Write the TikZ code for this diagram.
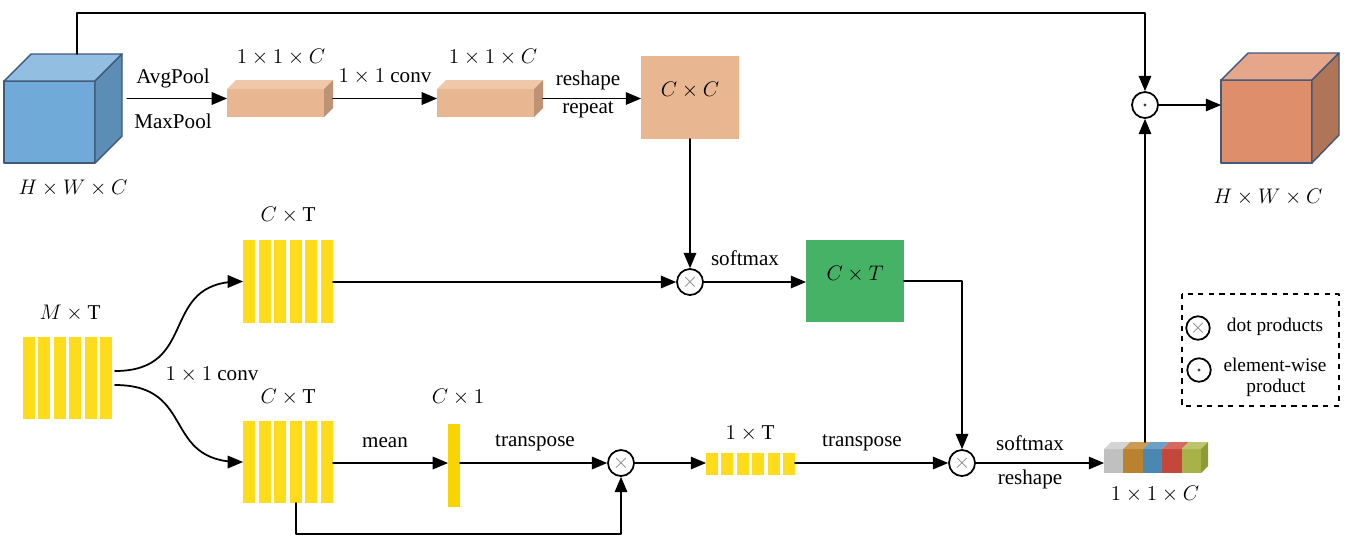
\documentclass[tikz,border=0pt]{standalone}
\usepackage{fontspec}
\setmainfont{Liberation Serif}
\usetikzlibrary{arrows}
\usetikzlibrary{fit}
\usetikzlibrary{calc}
\definecolor{cubeblue}{HTML}{6FAAD8}
\definecolor{cubebluetop}{HTML}{92BEE2}
\definecolor{cubeblueside}{HTML}{5B8DB5}
\definecolor{cubeedge}{HTML}{41597A}
\definecolor{peach}{HTML}{E8B690}
\definecolor{peachtop}{HTML}{EEC8A8}
\definecolor{peachside}{HTML}{BE9274}
\definecolor{cubered}{HTML}{DE8E6A}
\definecolor{cuberedtop}{HTML}{E5A689}
\definecolor{cuberedside}{HTML}{B07456}
\definecolor{baryellow}{HTML}{FFDC1A}
\definecolor{meanyellow}{HTML}{F8D500}
\definecolor{boxgreen}{HTML}{46B266}
\definecolor{segA}{HTML}{C0C0C0}
\definecolor{segAtop}{HTML}{D4D4D4}
\definecolor{segB}{HTML}{B8822F}
\definecolor{segBtop}{HTML}{CC9A52}
\definecolor{segC}{HTML}{4A88B2}
\definecolor{segCtop}{HTML}{6CA0C6}
\definecolor{segD}{HTML}{C4473B}
\definecolor{segDtop}{HTML}{D46A60}
\definecolor{segE}{HTML}{A9B149}
\definecolor{segEtop}{HTML}{BEC46C}
\definecolor{segEside}{HTML}{8C9A38}
\begin{document}
\begin{tikzpicture}[line cap=round,line join=round,>=triangle 45,x=0.02cm,y=-0.02cm,
  every node/.style={font=\fontsize{12}{14.4}\selectfont},
  conn/.style={line width=1.pt},
  op/.style={circle,draw,line width=1.pt,fill=white,minimum size=0.52cm,inner sep=0pt},
  area/.style={inner sep=0pt,outer sep=0pt},
  face/.style={draw=cubeedge,line width=.8pt},
  legtext/.style={font=\fontsize{11}{13}\selectfont}]
\useasboundingbox (0,0) rectangle (1355,539);
% input cube
\node[area,fit={(4,54)(122,163)}] (xin) {};
\filldraw[face,fill=cubeblue] (4,81) rectangle (95,163);
\filldraw[face,fill=cubebluetop] (4,81) -- (31,54) -- (122,54) -- (95,81) -- cycle;
\filldraw[face,fill=cubeblueside] (95,81) -- (122,54) -- (122,136) -- (95,163) -- cycle;
\coordinate (skip) at (77,54);
% pooled bars
\node[area,fit={(227,80)(333,117)}] (pool) {};
\fill[peach] (227,89) rectangle (324,117);
\fill[peachtop] (227,89) -- (236,80) -- (333,80) -- (324,89) -- cycle;
\fill[peachside] (324,89) -- (333,80) -- (333,108) -- (324,117) -- cycle;
\node[area,fit={(437,80)(543,117)}] (conv) {};
\fill[peach] (437,89) rectangle (534,117);
\fill[peachtop] (437,89) -- (446,80) -- (543,80) -- (534,89) -- cycle;
\fill[peachside] (534,89) -- (543,80) -- (543,108) -- (534,117) -- cycle;
\node[area,fit={(641,56)(739,139)},fill=peach] (cc) {$C\times C$};
% output cube
\node[area,fit={(1221,53)(1339,163)}] (xout) {};
\filldraw[face,fill=cubered] (1221,80) rectangle (1312,163);
\filldraw[face,fill=cuberedtop] (1221,80) -- (1248,53) -- (1339,53) -- (1312,80) -- cycle;
\filldraw[face,fill=cuberedside] (1312,80) -- (1339,53) -- (1339,135) -- (1312,163) -- cycle;
% feature bars
\node[area,fit={(23,337)(112,419)}] (mt) {};
\foreach \i in {0,...,5} \fill[baryellow] (23+\i*15.4,337) rectangle ++(12,82);
\node[area,fit={(243,240)(333,323)}] (ctop) {};
\foreach \i in {0,...,5} \fill[baryellow] (243+\i*15.6,240) rectangle ++(12,83);
\node[area,fit={(243,421)(333,503)}] (cbot) {};
\foreach \i in {0,...,5} \fill[baryellow] (243+\i*15.6,421) rectangle ++(12,82);
\coordinate (cbfoot) at (296,503);
\node[area,fit={(448,424)(460,507)},fill=meanyellow] (cmean) {};
\node[area,fit={(706,453)(795,475)}] (ot) {};
\foreach \i in {0,...,5} \fill[baryellow] (706+\i*15.4,453) rectangle ++(12,22);
\node[area,fit={(806,240)(904,322)},fill=boxgreen] (attn) {$C\times T$};
% channel weights
\node[area,fit={(1104,442)(1208,473)}] (cw) {};
\foreach \c/\t [count=\i from 0] in {segA/segAtop,segB/segBtop,segC/segCtop,segD/segDtop,segE/segEtop}
{
\fill[\c] (1104+\i*19.4,449) rectangle ++(19.4,24);
\fill[\t] (1104+\i*19.4,449) -- ++(7,-7) -- ++(19.4,0) -- ++(-7,7) -- cycle;
}
\fill[segEside] (1201,449) -- (1208,442) -- (1208,466) -- (1201,473) -- cycle;
% operators
\node[op] (m1) at (690,282) {\textcolor{gray}{$\times$}};
\node[op] (m2) at (621,463) {\textcolor{gray}{$\times$}};
\node[op] (m3) at (962,463) {\textcolor{gray}{$\times$}};
\node[op] (prod) at (1145,105) {};
\fill[darkgray] (prod) circle (1.6);
% connectors
\draw[conn,->] (skip) -- ++(0,-41) -| (prod.north);
\draw[conn,->,shorten <=3pt] (xin.east |- pool.west) -- (pool.west);
\draw[conn,->] (pool.east) -- (conv.west);
\draw[conn,->] (conv.east) -- (cc.west |- conv.east);
\draw[conn,->] (cc.south) -- (m1.north);
\draw[conn,->] ($(mt.east)+(3,-7)$) to[out=0,in=180,looseness=1.4] (ctop.west);
\draw[conn,->] ($(mt.east)+(3,7)$) to[out=0,in=180,looseness=1.4] (cbot.west);
\draw[conn,->] (ctop.east |- m1) -- (m1.west);
\draw[conn,->] (m1.east) -- (attn.west |- m1);
\draw[conn,->] (attn.east) -| (m3.north);
\draw[conn,->] (cbot.east |- m2) -- (cmean.west |- m2);
\draw[conn,->] (cmean.east |- m2) -- (m2.west);
\draw[conn,->] (cbfoot) -- ++(0,31) -| (m2.south);
\draw[conn,->] (m2.east) -- (ot.west |- m2);
\draw[conn,->] (ot.east |- m3) -- (m3.west);
\draw[conn,->] (m3.east) -- (cw.west |- m3);
\draw[conn,->] (cw.north -| prod) -- (prod.south);
\draw[conn,->] (prod.east) -- (xout.west |- prod);
% labels
\draw[color=black] (73,188) node {$H\times W\times C$};
\draw[color=black] (173,78) node {AvgPool};
\draw[color=black] (173,121) node {MaxPool};
\draw[color=black] (281,57) node {$1\times 1\times C$};
\draw[color=black] (385,77) node {$1\times 1$ conv};
\draw[color=black] (493,57) node {$1\times 1\times C$};
\draw[color=black] (588,80) node {reshape};
\draw[color=black] (588,110) node {repeat};
\draw[color=black] (1268,197) node {$H\times W\times C$};
\draw[color=black] (288,215) node {$C\times\mathrm{T}$};
\draw[color=black] (70,313) node {$M\times\mathrm{T}$};
\draw[color=black] (212,375) node {$1\times 1$ conv};
\draw[color=black] (745,258) node {softmax};
\draw[color=black] (288,397) node {$C\times\mathrm{T}$};
\draw[color=black] (458,397) node {$C\times 1$};
\draw[color=black] (385,443) node {mean};
\draw[color=black] (535,443) node {transpose};
\draw[color=black] (750,433) node {$1\times\mathrm{T}$};
\draw[color=black] (862,443) node {transpose};
\draw[color=black] (1030,443) node {softmax};
\draw[color=black] (1030,479) node {reshape};
\draw[color=black] (1155,494) node {$1\times 1\times C$};
% legend
\draw[dashed,line width=.6pt,line cap=butt] (1182,294) rectangle (1339,406);
\node[op,minimum size=0.47cm] (lgx) at (1198,328) {\textcolor{gray}{$\times$}};
\node[op,minimum size=0.47cm] (lgdot) at (1199,370) {};
\fill[darkgray] (lgdot) circle (1.6);
\node[legtext] at (1275,327) {dot products};
\node[legtext] at (1275,365) {element-wise};
\node[legtext] at (1276,388) {product};
\end{tikzpicture}
\end{document}
